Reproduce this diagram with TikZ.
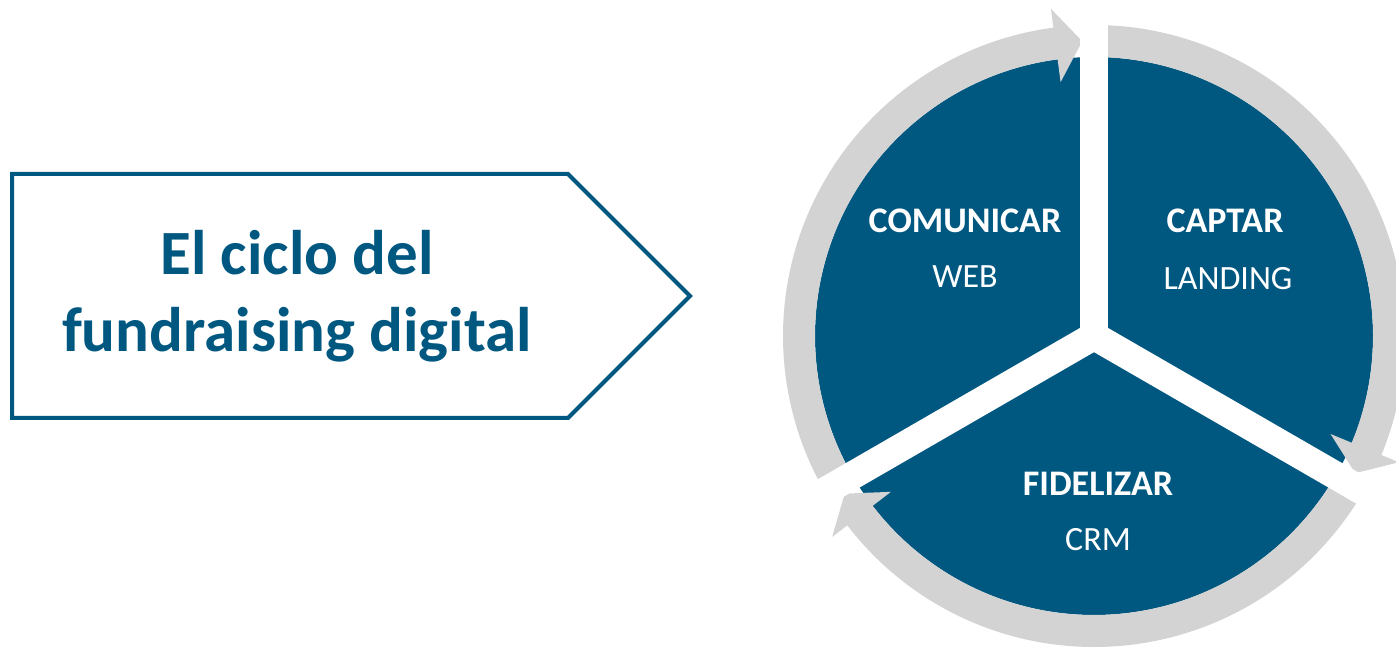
\documentclass[tikz,border=0pt]{standalone}
\usepackage{fontspec}
\setmainfont{Carlito}
\definecolor{cyclblue}{RGB}{0,88,129}
\definecolor{ringgray}{RGB}{211,211,211}
\begin{document}
\begin{tikzpicture}[x=1pt,y=1pt,
  ring/.style={fill=ringgray},
  gapline/.style={draw=white,line width=28pt},
  stage/.style={text=white,font=\fontsize{36}{40}\selectfont\bfseries,anchor=base,inner sep=0pt},
  tool/.style={text=white,font=\fontsize{34}{40}\selectfont,anchor=base,inner sep=0pt},
  titletext/.style={text=cyclblue,font=\fontsize{63}{75}\selectfont\bfseries,anchor=base,inner sep=0pt}]
\clip (0,0) rectangle (1396,648);
\fill[white] (0,0) rectangle (1396,648);
% title pentagon
\draw[cyclblue, line width=4pt, line join=miter] (12,474) -- (568,474) -- (690,352) -- (568,230) -- (12,230) -- cycle;
\node[titletext] (t1) at (297,373) {El ciclo del};
\node[titletext] (t2) at (297,296) {fundraising digital};
% cycle
\coordinate (C) at (1094,312);
\fill[cyclblue] (C) circle[radius=279pt];
\begin{scope}[shift={(C)}]
 \fill[ring] (210:311pt) arc[start angle=210,end angle=97.5,radius=311pt] -- (97.5:330pt) -- (92.3:295pt) -- (97.5:256pt) -- (97.5:279pt) arc[start angle=97.5,end angle=210,radius=279pt] -- cycle;
 \fill[ring] (90:311pt) arc[start angle=90,end angle=-22.5,radius=311pt] -- (-22.5:330pt) -- (-27.7:295pt) -- (-22.5:256pt) -- (-22.5:279pt) arc[start angle=-22.5,end angle=90,radius=279pt] -- cycle;
 \fill[ring] (-30:311pt) arc[start angle=-30,end angle=-142.5,radius=311pt] -- (-142.5:330pt) -- (-147.7:295pt) -- (-142.5:256pt) -- (-142.5:279pt) arc[start angle=-142.5,end angle=-30,radius=279pt] -- cycle;
\end{scope}
\draw[gapline] (C) -- ++(90:360pt);
\draw[gapline] (C) -- ++(-30:360pt);
\draw[gapline] (C) -- ++(210:360pt);
% labels
\node[stage] (s1) at (965,415) {COMUNICAR};
\node[tool] (w1) at (965,360) {WEB};
\node[stage] (s2) at (1225,415) {CAPTAR};
\node[tool] (w2) at (1228,358) {LANDING};
\node[stage] (s3) at (1098,153) {FIDELIZAR};
\node[tool] (w3) at (1098,98) {CRM};
\end{tikzpicture}
\end{document}
